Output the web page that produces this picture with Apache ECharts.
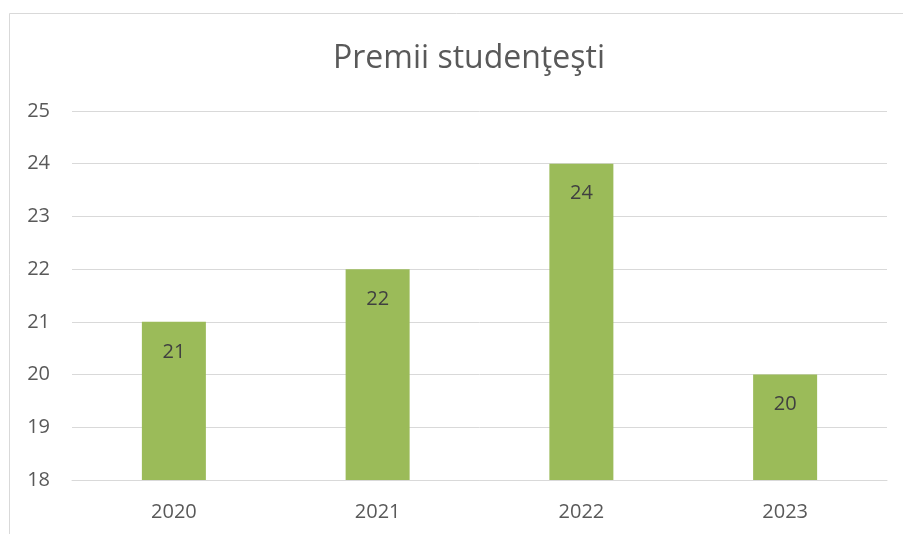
<!DOCTYPE html>
<html><head><meta charset="utf-8">
<script src="https://cdn.jsdelivr.net/npm/echarts@6/dist/echarts.min.js"></script>
<style>html,body{margin:0;padding:0;background:#fff}#c{width:903px;height:534px}</style>
</head><body><div id="c"></div>
<script>
const titleText = 'Premii studenţeşti';
const categories = ['2020', '2021', '2022', '2023'];
const values = [21, 22, 24, 20];
const yMin = 18, yMax = 25, yInterval = 1;

const chart = echarts.init(document.getElementById('c'), null, {renderer: 'canvas'});
const FONT = 'Open Sans';
chart.setOption({
  animation: false,
  backgroundColor: '#fff',
  graphic: [{
    type: 'polyline', silent: true,
    shape: {points: [[9.5, 540], [9.5, 13.5], [910, 13.5]]},
    style: {stroke: '#D9D9D9', lineWidth: 1, fill: null}
  }],
  title: {
    text: titleText, left: 328, top: 38,
    textStyle: {fontFamily: FONT, fontSize: 32, fontWeight: 'normal', color: '#595959'}
  },
  grid: {left: 72, right: 16, top: 111, bottom: 54, containLabel: false},
  xAxis: {
    type: 'category', data: categories,
    axisLine: {show: true, lineStyle: {color: '#D9D9D9', width: 1}},
    axisTick: {show: false},
    axisLabel: {color: '#595959', fontFamily: FONT, fontSize: 20, margin: 22}
  },
  yAxis: {
    type: 'value', min: yMin, max: yMax, interval: yInterval,
    axisLine: {show: false}, axisTick: {show: false},
    splitLine: {lineStyle: {color: '#D9D9D9', width: 1}},
    axisLabel: {color: '#595959', fontFamily: FONT, fontSize: 20, margin: 22}
  },
  series: [{
    type: 'bar', data: values, barWidth: 64,
    itemStyle: {color: '#9BBB59'},
    label: {show: true, position: 'insideTop', distance: 20, color: '#404040', fontFamily: FONT, fontSize: 20}
  }]
});
</script></body></html>
